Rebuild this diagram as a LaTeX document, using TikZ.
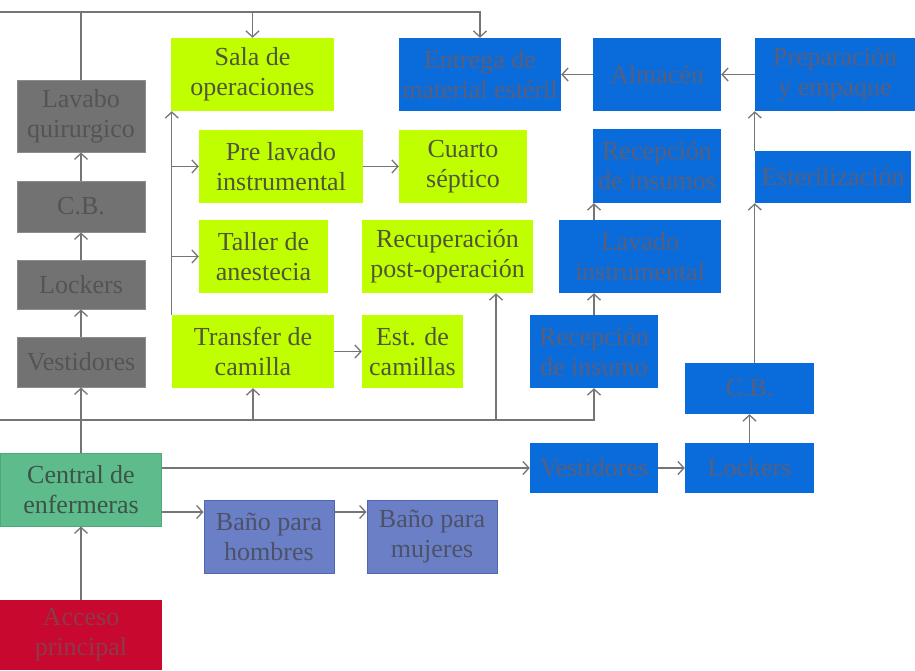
\documentclass[tikz,border=0pt]{standalone}
\usepackage{fontspec}
\setmainfont{Liberation Serif}
\usetikzlibrary{arrows.meta}
\definecolor{grayfill}{HTML}{727272}
\definecolor{grayedge}{HTML}{8C8C8C}
\definecolor{graytext}{HTML}{545454}
\definecolor{limefill}{HTML}{BFFF00}
\definecolor{limetext}{HTML}{50553A}
\definecolor{bluefill}{HTML}{0A6CDB}
\definecolor{bluetext}{HTML}{5A5E7A}
\definecolor{centfill}{HTML}{5DBB8C}
\definecolor{centedge}{HTML}{4FA77C}
\definecolor{centtext}{HTML}{3E5247}
\definecolor{banofill}{HTML}{6A7FC5}
\definecolor{banoedge}{HTML}{5265B0}
\definecolor{banotext}{HTML}{4D5268}
\definecolor{accfill}{HTML}{C8082E}
\definecolor{acctext}{HTML}{8C3A4B}
\definecolor{linecol}{HTML}{757575}
\begin{document}
\begin{tikzpicture}[x=1pt,y=-1pt,
  box/.style={rectangle, inner sep=0pt, align=center, font=\fontsize{26}{30}\selectfont},
  grbox/.style={box, fill=grayfill, draw=grayedge, line width=1pt, text=graytext},
  limebox/.style={box, fill=limefill, text=limetext},
  bluebox/.style={box, fill=bluefill, text=bluetext},
  centbox/.style={box, fill=centfill, draw=centedge, line width=1pt, text=centtext},
  banobox/.style={box, fill=banofill, draw=banoedge, line width=1pt, text=banotext},
  accbox/.style={box, fill=accfill, text=acctext},
  conn/.style={draw=linecol, line width=1.3pt},
  arr/.style={conn, -{Straight Barb[length=6pt,width=13pt,line width=1.3pt]}}]
\useasboundingbox (0,0) rectangle (915,670);

% left column
\node[accbox, minimum width=162pt, minimum height=70pt] (acceso) at (81,635) {Acceso\\principal};
\node[centbox, minimum width=161pt, minimum height=73pt] (central) at (81,489.5) {Central de\\enfermeras};
\node[grbox, minimum width=128pt, minimum height=50pt] (vestg) at (81,362) {Vestidores};
\node[grbox, minimum width=128pt, minimum height=49pt] (lockg) at (81,284.5) {Lockers};
\node[grbox, minimum width=128pt, minimum height=51pt] (cbg) at (81,206.5) {C.B.};
\node[grbox, minimum width=128pt, minimum height=72pt] (lavabo) at (81,116) {Lavabo\\quirurgico};

% green
\node[limebox, minimum width=163pt, minimum height=73pt] (sala) at (252.5,74.5) {Sala de\\operaciones};
\node[limebox, minimum width=164pt, minimum height=73pt] (prelav) at (281,166.5) {Pre lavado\\instrumental};
\node[limebox, minimum width=128pt, minimum height=73pt] (cuarto) at (463,166.5) {Cuarto\\séptico};
\node[limebox, minimum width=129pt, minimum height=73pt] (taller) at (263.5,256.5) {Taller de\\anestecia};
\node[limebox, minimum width=171pt, minimum height=73pt] (recup) at (447.5,256.5) {Recuperación\\post-operación};
\node[limebox, minimum width=162pt, minimum height=73pt] (transfer) at (253,351.5) {Transfer de\\camilla};
\node[limebox, minimum width=101pt, minimum height=73pt] (est) at (412.5,351.5) {Est. de\\camillas};

% blue
\node[bluebox, minimum width=162pt, minimum height=73pt] (entrega) at (480,74.5) {Entrega de\\material estéril};
\node[bluebox, minimum width=128pt, minimum height=73pt] (almacen) at (657,74.5) {Almacén};
\node[bluebox, minimum width=160pt, minimum height=73pt] (prep) at (835,74.5) {Preparación\\y empaque};
\node[bluebox, minimum width=128pt, minimum height=74pt] (recinsa) at (657,166) {Recepción\\de insumos};
\node[bluebox, minimum width=156pt, minimum height=52pt] (ester) at (833,177) {Esterilización};
\node[bluebox, minimum width=162pt, minimum height=73pt] (lavado) at (640,256.5) {Lavado\\instrumental};
\node[bluebox, minimum width=128pt, minimum height=73pt] (recinsb) at (594,351.5) {Recepción\\de insumo};
\node[bluebox, minimum width=129pt, minimum height=51pt] (cbb) at (749.5,388.5) {C.B.};
\node[bluebox, minimum width=128pt, minimum height=50pt] (vestb) at (594,468) {Vestidores};
\node[bluebox, minimum width=129pt, minimum height=50pt] (lockb) at (749.5,468) {Lockers};

% baños
\node[banobox, minimum width=130pt, minimum height=73pt] (bh) at (269,536.5) {Baño para\\hombres};
\node[banobox, minimum width=130pt, minimum height=73pt] (bm) at (432,536.5) {Baño para\\mujeres};

% coordinates
\coordinate (tl) at (0,12);
\coordinate (bl) at (0,420);
\coordinate (rx) at (496,420);
\coordinate (by) at (0,512);

% left column connectors
\draw[arr] (acceso.north) -- (central.south);
\draw[arr] (central.north) -- (vestg.south);
\draw[arr] (vestg.north) -- (lockg.south);
\draw[arr] (lockg.north) -- (cbg.south);
\draw[arr] (cbg.north) -- (lavabo.south);
\draw[conn] (lavabo.north) -- (lavabo.north |- tl);
\draw[arr] (tl) -- (tl -| entrega.north) -- (entrega.north);
\draw[arr] (tl -| sala.north) -- (sala.north);

% bottom corridor
\draw[arr] (bl) -- (bl -| recinsb.south) -- (recinsb.south);
\draw[arr] (bl -| transfer.south) -- (transfer.south);
\draw[arr] (rx) -- (rx |- recup.south);

% green area
\draw[arr] (transfer.north west) -- (transfer.north west |- sala.south);
\draw[arr] (transfer.north west |- prelav.west) -- (prelav.west);
\draw[arr] (transfer.north west |- taller.west) -- (taller.west);
\draw[arr] (prelav.east) -- (cuarto.west);
\draw[arr] (transfer.east) -- (est.west);

% blue area
\draw[arr] (almacen.west) -- (entrega.east);
\draw[arr] (prep.west) -- (almacen.east);
\draw[arr] (recinsb.north) -- (recinsb.north |- lavado.south);
\draw[arr] (recinsb.north |- lavado.north) -- (recinsb.north |- recinsa.south);
\draw[arr] (ester.south west |- cbb.north) -- (ester.south west);
\draw[arr] (ester.north west) -- (ester.north west |- prep.south);
\draw[arr] (lockb.north) -- (cbb.south);
\draw[arr] (vestb.east) -- (lockb.west);
\draw[arr] (central.east |- vestb.west) -- (vestb.west);

% baños
\draw[arr] (central.east |- by) -- (bh.west |- by);
\draw[arr] (bh.east |- by) -- (bm.west |- by);
\end{tikzpicture}
\end{document}
